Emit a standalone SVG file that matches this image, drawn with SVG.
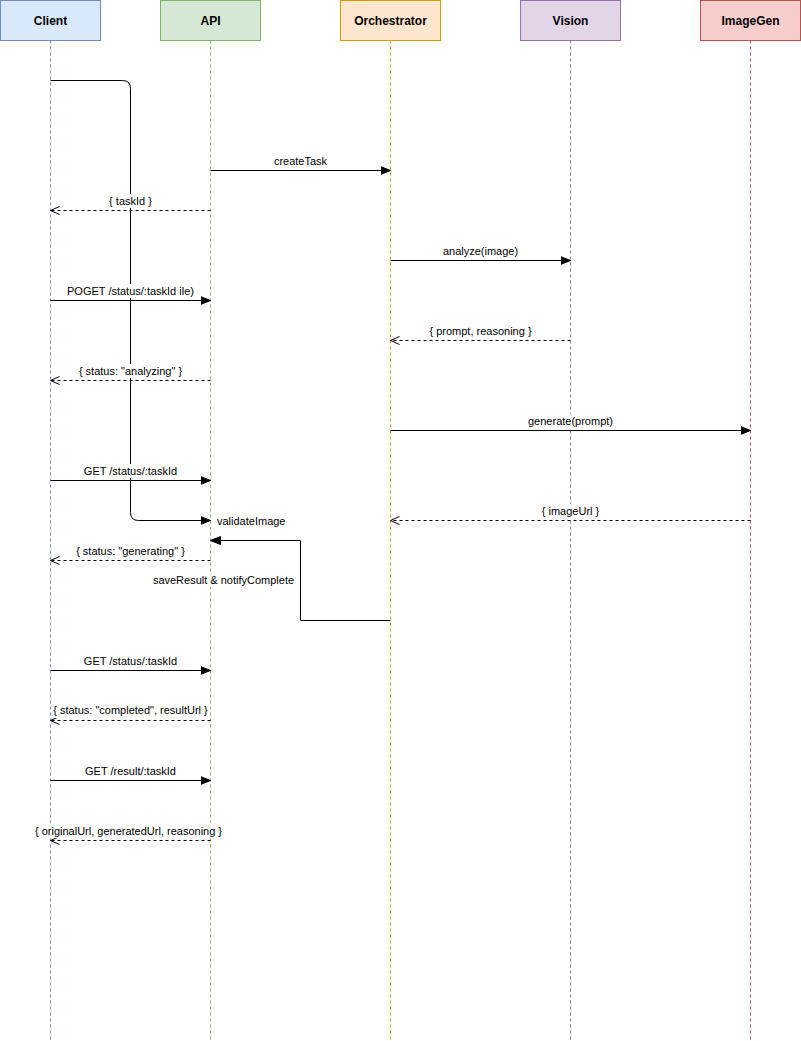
<svg xmlns="http://www.w3.org/2000/svg" width="801" height="1041" viewBox="0 0 801 1041">
<style>
.hdr{stroke-width:1}
.ht{font-family:"Liberation Sans",Arial,sans-serif;font-size:12px;font-weight:bold;fill:#000;text-anchor:middle;dominant-baseline:central}
.ll{stroke-width:1;stroke-dasharray:3 3;fill:none}
.msg{stroke:#000;stroke-width:1;fill:none}
.ret{stroke:#000;stroke-width:1;fill:none;stroke-dasharray:3 3}
.lb{font-family:"Liberation Sans",Arial,sans-serif;font-size:11px;fill:#000;text-anchor:middle;dominant-baseline:central}
.bg{fill:#fff}
</style>
<defs>
<marker id="fill" markerWidth="12" markerHeight="10" refX="10" refY="5" orient="auto" markerUnits="userSpaceOnUse">
<path d="M0,1 L10,5 L0,9 Z" fill="#000" stroke="#000" stroke-width="1"/>
</marker>
<marker id="open" markerWidth="12" markerHeight="10" refX="10" refY="5" orient="auto" markerUnits="userSpaceOnUse">
<path d="M1,1 L10,5 L1,9" fill="none" stroke="#000" stroke-width="1"/>
</marker>
</defs>
<rect width="801" height="1041" fill="#fff"/>

<g id="client">
<rect class="hdr" x="0.5" y="0.5" width="100" height="40" fill="#dae8fc" stroke="#6c8ebf"/>
<text class="ht" x="50.5" y="20.5">Client</text>
<line class="ll" x1="50.5" y1="40.5" x2="50.5" y2="1041" stroke="#6c8ebf"/>
</g>
<g id="api">
<rect class="hdr" x="160.5" y="0.5" width="100" height="40" fill="#d5e8d4" stroke="#82b366"/>
<text class="ht" x="210.5" y="20.5">API</text>
<line class="ll" x1="210.5" y1="40.5" x2="210.5" y2="1041" stroke="#82b366"/>
</g>
<g id="orchestrator">
<rect class="hdr" x="340.5" y="0.5" width="100" height="40" fill="#ffe6cc" stroke="#d79b00"/>
<text class="ht" x="390.5" y="20.5">Orchestrator</text>
<line class="ll" x1="390.5" y1="40.5" x2="390.5" y2="1041" stroke="#d79b00"/>
</g>
<g id="vision">
<rect class="hdr" x="520.5" y="0.5" width="100" height="40" fill="#e1d5e7" stroke="#9673a6"/>
<text class="ht" x="570.5" y="20.5">Vision</text>
<line class="ll" x1="570.5" y1="40.5" x2="570.5" y2="1041" stroke="#9673a6"/>
</g>
<g id="imagegen">
<rect class="hdr" x="700.5" y="0.5" width="100" height="40" fill="#f8cecc" stroke="#b85450"/>
<text class="ht" x="750.5" y="20.5">ImageGen</text>
<line class="ll" x1="750.5" y1="40.5" x2="750.5" y2="1041" stroke="#b85450"/>
</g>

<g id="connectors">
<!-- validateImage -->
<path class="msg" d="M50.5,80.5 H122.5 Q130.5,80.5 130.5,88.5 V512.5 Q130.5,520.5 138.5,520.5 H210.5" marker-end="url(#fill)"/>
<text class="lb" x="217" y="520.5" style="text-anchor:start">validateImage</text>

<!-- createTask -->
<line class="msg" x1="210.5" y1="170.5" x2="390.5" y2="170.5" marker-end="url(#fill)"/>
<rect class="bg" x="271" y="154" width="59" height="14"/>
<text class="lb" x="300.5" y="161">createTask</text>

<!-- { taskId } -->
<line class="ret" x1="210.5" y1="210.5" x2="50.5" y2="210.5" marker-end="url(#open)"/>
<rect class="bg" x="106" y="194" width="49" height="14"/>
<text class="lb" x="130.5" y="201">{ taskId }</text>

<!-- analyze(image) -->
<line class="msg" x1="390.5" y1="260.5" x2="570.5" y2="260.5" marker-end="url(#fill)"/>
<rect class="bg" x="440" y="244" width="80" height="14"/>
<text class="lb" x="480.5" y="251">analyze(image)</text>

<!-- POGET -->
<line class="msg" x1="50.5" y1="300.5" x2="210.5" y2="300.5" marker-end="url(#fill)"/>
<rect class="bg" x="65" y="284" width="131" height="14"/>
<text class="lb" x="130.5" y="291">POGET /status/:taskId ile)</text>

<!-- { prompt, reasoning } -->
<line class="ret" x1="570.5" y1="340.5" x2="390.5" y2="340.5" marker-end="url(#open)"/>
<rect class="bg" x="425" y="324" width="111" height="14"/>
<text class="lb" x="480.5" y="331">{ prompt, reasoning }</text>

<!-- analyzing -->
<line class="ret" x1="210.5" y1="380.5" x2="50.5" y2="380.5" marker-end="url(#open)"/>
<rect class="bg" x="76" y="364" width="109" height="14"/>
<text class="lb" x="130.5" y="371">{ status: "analyzing" }</text>

<!-- generate(prompt) -->
<line class="msg" x1="390.5" y1="430.5" x2="750.5" y2="430.5" marker-end="url(#fill)"/>
<rect class="bg" x="525" y="414" width="91" height="14"/>
<text class="lb" x="570.5" y="421">generate(prompt)</text>

<!-- GET status 1 -->
<line class="msg" x1="50.5" y1="480.5" x2="210.5" y2="480.5" marker-end="url(#fill)"/>
<rect class="bg" x="81" y="464" width="99" height="14"/>
<text class="lb" x="130.5" y="471">GET /status/:taskId</text>

<!-- { imageUrl } -->
<line class="ret" x1="750.5" y1="520.5" x2="390.5" y2="520.5" marker-end="url(#open)"/>
<rect class="bg" x="539" y="504" width="63" height="14"/>
<text class="lb" x="570.5" y="511">{ imageUrl }</text>

<!-- saveResult & notifyComplete -->
<path class="msg" d="M390.5,620.5 H300.5 V540.5 H210.5" marker-end="url(#fill)"/>
<rect class="bg" x="151" y="573" width="145" height="14"/>
<text class="lb" x="223.5" y="580">saveResult &amp; notifyComplete</text>

<!-- generating -->
<line class="ret" x1="210.5" y1="560.5" x2="50.5" y2="560.5" marker-end="url(#open)"/>
<rect class="bg" x="73" y="544" width="114" height="14"/>
<text class="lb" x="130.5" y="551">{ status: "generating" }</text>

<!-- GET status 2 -->
<line class="msg" x1="50.5" y1="670.5" x2="210.5" y2="670.5" marker-end="url(#fill)"/>
<rect class="bg" x="81" y="654" width="99" height="14"/>
<text class="lb" x="130.5" y="661">GET /status/:taskId</text>

<!-- completed -->
<line class="ret" x1="210.5" y1="720.5" x2="50.5" y2="720.5" marker-end="url(#open)"/>
<rect class="bg" x="52" y="703" width="157" height="15"/>
<text class="lb" x="130.5" y="710">{ status: "completed", resultUrl }</text>

<!-- GET result -->
<line class="msg" x1="50.5" y1="780.5" x2="210.5" y2="780.5" marker-end="url(#fill)"/>
<rect class="bg" x="83" y="764" width="95" height="14"/>
<text class="lb" x="130.5" y="771">GET /result/:taskId</text>

<!-- final -->
<line class="ret" x1="210.5" y1="840.5" x2="50.5" y2="840.5" marker-end="url(#open)"/>
<rect class="bg" x="33" y="823" width="191" height="15"/>
<text class="lb" x="128.5" y="831">{ originalUrl, generatedUrl, reasoning }</text>
</g>
</svg>
